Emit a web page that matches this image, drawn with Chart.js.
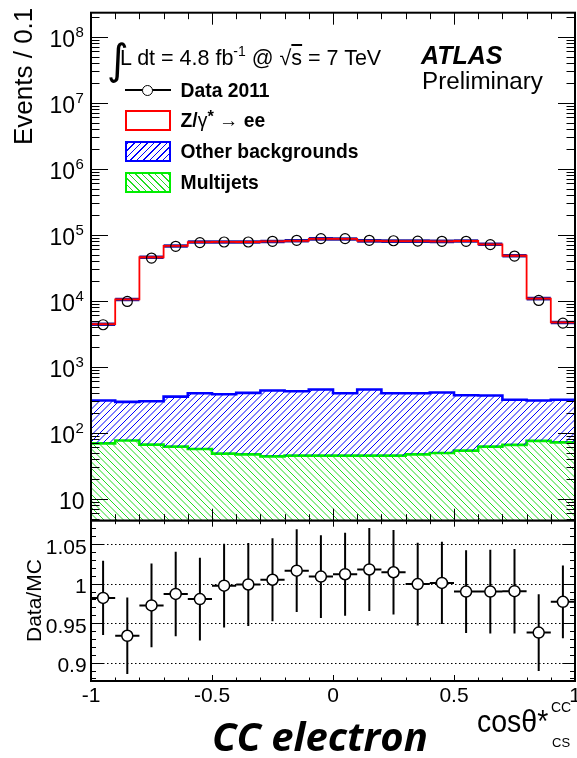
<!DOCTYPE html>
<html>
<head>
<meta charset="utf-8">
<script src="https://cdn.jsdelivr.net/npm/chart.js@4.4.1/dist/chart.umd.min.js"></script>
<style>
html,body{margin:0;padding:0;background:#fff;}
#wrap{position:relative;width:577px;height:758px;overflow:hidden;background:#fff;font-family:"Liberation Sans",Arial,Helvetica,sans-serif;color:#000;}
#mainCanvas{position:absolute;left:0;top:0;}
#ratioCanvas{position:absolute;left:0;top:500px;}
.t{position:absolute;white-space:nowrap;line-height:1;margin:0;padding:0;left:0;top:0;}
.sw{position:absolute;box-sizing:border-box;}
</style>
</head>
<body>
<div id="wrap">
<canvas id="mainCanvas" width="577" height="521"></canvas>
<canvas id="ratioCanvas" width="577" height="258"></canvas>

<div class="t" id="ytitle" style="font-size:26px;">Events / 0.1</div>
<div class="t" id="rtitle" style="font-size:21px;">Data/MC</div>

<div class="t" data-x="107" data-bl="74" style="font-family:'DejaVu Sans';font-size:42px;">∫</div>
<div class="t" data-x="120" data-bl="64.5" style="font-size:21.5px;">L dt = 4.8 fb<span style="font-size:0.65em;vertical-align:0.62em;">-1</span> @ √<span style="text-decoration:overline;">s</span> = 7 TeV</div>
<div class="t" data-x="421" data-bl="64" style="font-size:25px;font-weight:bold;font-style:italic;">ATLAS</div>
<div class="t" data-x="422" data-bl="89" style="font-size:24.2px;">Preliminary</div>

<div class="sw" style="left:125.3px;top:89.2px;width:46px;height:1.6px;background:#000;"></div>
<div class="sw" style="left:141.9px;top:84.5px;width:11px;height:11px;border:1.3px solid #000;border-radius:50%;background:#fff;"></div>
<div class="sw" style="left:125.3px;top:110px;width:46px;height:21px;border:2px solid #ff0000;background:#fff;"></div>
<div class="sw" style="left:125.3px;top:140.8px;width:46px;height:21px;border:2px solid #0000ff;background:repeating-linear-gradient(-45deg,#fff 0 3.6px,#0000ff 3.6px 4.6px);"></div>
<div class="sw" style="left:125.3px;top:171.5px;width:46px;height:21px;border:2px solid #00ee00;background:repeating-linear-gradient(45deg,#fff 0 3.6px,#22dd22 3.6px 4.6px);"></div>

<div class="t" data-x="180.6" data-bl="96.9" style="font-size:19.3px;font-weight:bold;">Data 2011</div>
<div class="t" data-x="180.6" data-bl="127.4" style="font-size:19.3px;font-weight:bold;">Z/<span style="font-weight:normal;">γ</span><span style="font-size:0.85em;vertical-align:0.3em;">*</span> → ee</div>
<div class="t" data-x="180.6" data-bl="158.2" style="font-size:19.3px;font-weight:bold;">Other backgrounds</div>
<div class="t" data-x="180.6" data-bl="188.9" style="font-size:19.3px;font-weight:bold;">Multijets</div>

<div class="t" data-x="477" data-bl="731.7" data-sx="0.89" style="font-size:32px;">cosθ*</div>
<div class="t" data-x="551" data-bl="711.7" style="font-size:14px;">CC</div>
<div class="t" data-x="552" data-bl="746.7" style="font-size:13px;">CS</div>

<div class="t" data-x="212" data-bl="751" style="font-family:'Open Sans';font-size:40px;font-weight:bold;font-style:italic;">CC electron</div>
</div>

<script>
// ---------------- data ----------------
const binEdges = [-1.0,-0.9,-0.8,-0.7,-0.6,-0.5,-0.4,-0.3,-0.2,-0.1,0.0,0.1,0.2,0.3,0.4,0.5,0.6,0.7,0.8,0.9,1.0];
const binCenters = [-0.95,-0.85,-0.75,-0.65,-0.55,-0.45,-0.35,-0.25,-0.15,-0.05,0.05,0.15,0.25,0.35,0.45,0.55,0.65,0.75,0.85,0.95];

const dataCounts = [4325,9750,44300,66700,75900,77500,77500,79400,82200,87300,87300,82200,81000,80000,79400,79400,70800,47500,10100,4570];
const zeeCounts = [4100,10150,45250,67240,77010,77310,77180,78560,80450,86070,85870,80300,79450,79630,78910,79850,71160,47640,10460,4370];
const otherBkgCounts = [238,217,234,291,339,335,355,392,380,406,351,406,351,349,357,316,305,250,232,244];
const multijetCounts = [69,76,66,61.5,56.7,48.2,47,43.8,44.9,44.9,44.9,44.9,44.9,47,49.3,53.5,61.5,65.3,75.2,71.4];

const ratioValues = [0.982,0.934,0.9725,0.987,0.9805,0.9975,0.999,1.005,1.0165,1.009,1.012,1.018,1.0145,0.9995,1.001,0.99,0.99,0.9905,0.938,0.977];
const ratioErrors = [0.047,0.0485,0.053,0.0535,0.0525,0.053,0.0525,0.0525,0.0525,0.0525,0.0525,0.0525,0.0535,0.0525,0.052,0.0525,0.053,0.0535,0.0485,0.046];

const mainYTickValues = [10,100,1e3,1e4,1e5,1e6,1e7,1e8];
const mainYTickLabels = [['10',''],['10','2'],['10','3'],['10','4'],['10','5'],['10','6'],['10','7'],['10','8']];
const ratioYTickValues = [0.9,0.95,1,1.05];
const ratioYTickLabels = ['0.9','0.95','1','1.05'];
const xTickValues = [-1,-0.5,0,0.5,1];
const xTickLabels = ['-1','-0.5','0','0.5','1'];

// ---------------- derived tables ----------------
const multijetTop = multijetCounts.slice();
const bkgTop = multijetCounts.map((v,i)=>v+otherBkgCounts[i]);
const mcTotal = bkgTop.map((v,i)=>v+zeeCounts[i]);

function stepPoints(vals){
  const pts = vals.map((v,i)=>({x:binEdges[i], y:v}));
  pts.push({x:binEdges[vals.length], y:vals[vals.length-1]});
  return pts;
}
function hSegments(vals){
  const pts=[];
  vals.forEach((v,i)=>{ pts.push({x:binEdges[i],y:v},{x:binEdges[i+1],y:v},{x:binEdges[i+1],y:null}); });
  return pts;
}
function errSegments(){
  const pts=[];
  ratioValues.forEach((r,i)=>{
    pts.push({x:binEdges[i],y:r},{x:binEdges[i+1],y:r},{x:binEdges[i+1],y:null});
    pts.push({x:binCenters[i],y:r-ratioErrors[i]},{x:binCenters[i],y:r+ratioErrors[i]},{x:binCenters[i],y:null});
  });
  return pts;
}

// ---------------- styles ----------------
const GREEN='#00ee00', BLUE='#0000ff', NAVY='#26189a', RED='#ff0000';
const FONT='"Liberation Sans", Arial, sans-serif';

function hatch(canvasId, color, dir){
  const s=13, c=document.createElement('canvas'); c.width=s; c.height=s;
  const g=c.getContext('2d'); g.strokeStyle=color; g.lineWidth=1;
  for (let x0=-2*s; x0<=2*s; x0+=6.5){
    g.beginPath();
    if (dir==='/'){ g.moveTo(x0,s); g.lineTo(x0+s,0); } else { g.moveTo(x0,0); g.lineTo(x0+s,s); }
    g.stroke();
  }
  return document.getElementById(canvasId).getContext('2d').createPattern(c,'repeat');
}

const rootFrame = {
  id:'rootFrame',
  beforeDatasetsDraw(chart, args, opts){
    if (opts.kind!=='ratio') return;
    const {ctx, chartArea:a, scales:{y}} = chart;
    ctx.save(); ctx.strokeStyle='#000'; ctx.lineWidth=1.2; ctx.setLineDash([1.5,2.5]);
    ratioYTickValues.forEach(v=>{ const py=Math.round(y.getPixelForValue(v))+0.5; ctx.beginPath(); ctx.moveTo(a.left,py); ctx.lineTo(a.right,py); ctx.stroke(); });
    ctx.restore();
  },
  afterDatasetsDraw(chart, args, opts){
    const {ctx, chartArea:a, scales:{x,y}} = chart;
    const main = opts.kind==='main';
    ctx.save();
    ctx.strokeStyle='#000'; ctx.lineWidth=1; ctx.setLineDash([]);
    const xMaj = main?12:6, xMin = main?6.5:3.5;
    for (let k=-10;k<=10;k++){
      const px=Math.round(x.getPixelForValue(k/10))+0.5, len=(k%5===0)?xMaj:xMin;
      ctx.beginPath(); ctx.moveTo(px,a.bottom); ctx.lineTo(px,a.bottom-len); ctx.moveTo(px,a.top); ctx.lineTo(px,a.top+len); ctx.stroke();
    }
    if (main){
      for (let d=0; d<=8; d++) for (let m=1; m<=9; m++){
        const v=m*Math.pow(10,d); if (v<y.min||v>y.max) continue;
        const py=Math.round(y.getPixelForValue(v))+0.5, len=(m===1)?17:8.5;
        ctx.beginPath(); ctx.moveTo(a.left,py); ctx.lineTo(a.left+len,py); ctx.moveTo(a.right,py); ctx.lineTo(a.right-len,py); ctx.stroke();
      }
    } else {
      for (let k=87; k<=108; k++){
        const v=k/100; if (v<y.min||v>y.max) continue;
        const py=Math.round(y.getPixelForValue(v))+0.5, len=(k%5===0)?12.7:5;
        ctx.beginPath(); ctx.moveTo(a.left,py); ctx.lineTo(a.left+len,py); ctx.moveTo(a.right,py); ctx.lineTo(a.right-len,py); ctx.stroke();
      }
    }
    ctx.lineWidth=2; ctx.strokeRect(a.left,a.top,a.right-a.left,a.bottom-a.top);
    ctx.fillStyle='#000'; ctx.textBaseline='alphabetic';
    if (main){
      mainYTickValues.forEach((v,i)=>{
        const py=y.getPixelForValue(v), base=mainYTickLabels[i][0], exp=mainYTickLabels[i][1];
        if (!exp){ ctx.font='23px '+FONT; ctx.textAlign='right'; ctx.fillText(base,84.5,py+10); }
        else {
          ctx.font='23px '+FONT; ctx.textAlign='right'; ctx.fillText(base,75,py+10);
          ctx.font='15px '+FONT; ctx.textAlign='left'; ctx.fillText(exp,75.5,py+0.6);
        }
      });
    } else {
      ctx.font='21px '+FONT; ctx.textAlign='right';
      ratioYTickValues.forEach((v,i)=>{ ctx.fillText(ratioYTickLabels[i],86.6,y.getPixelForValue(v)+9.6); });
      ctx.textAlign='center';
      xTickValues.forEach((v,i)=>{ ctx.fillText(xTickLabels[i],x.getPixelForValue(v),a.bottom+20.7); });
    }
    ctx.restore();
  }
};

const common = {
  responsive:false, animation:false, devicePixelRatio:1,
  plugins:{legend:{display:false}, tooltip:{enabled:false}},
  elements:{line:{tension:0, borderCapStyle:'butt', borderJoinStyle:'miter'}, point:{hitRadius:0}}
};

new Chart(document.getElementById('mainCanvas'), {
  type:'line',
  data:{datasets:[
    {label:'Multijets', data:stepPoints(multijetTop), stepped:'before', borderColor:GREEN, borderWidth:2.6, backgroundColor:hatch('mainCanvas','#22dd22','\\'), fill:'start', pointRadius:0, order:5},
    {label:'Other backgrounds', data:stepPoints(bkgTop), stepped:'before', borderColor:BLUE, borderWidth:2.6, backgroundColor:hatch('mainCanvas','#0000ff','/'), fill:0, pointRadius:0, order:4},
    {label:'MC total', data:hSegments(mcTotal), borderColor:NAVY, borderWidth:3.6, fill:false, pointRadius:0, spanGaps:false, order:3},
    {label:'Z/γ* → ee', data:stepPoints(mcTotal), stepped:'before', borderColor:RED, borderWidth:1.8, fill:false, pointRadius:0, order:2},
    {label:'Data 2011', data:binCenters.map((x,i)=>({x:x, y:dataCounts[i]})), showLine:false, pointRadius:5, pointBorderColor:'#000', pointBackgroundColor:'rgba(0,0,0,0)', pointBorderWidth:1.2, order:1}
  ]},
  options:Object.assign({}, common, {
    layout:{padding:{left:91,right:2,top:12.7,bottom:0.3}, autoPadding:false},
    plugins:{legend:{display:false}, tooltip:{enabled:false}, rootFrame:{kind:'main'}},
    scales:{
      x:{type:'linear', min:-1, max:1, display:false},
      y:{type:'logarithmic', min:4.642, max:2.311e8, display:false}
    }
  }),
  plugins:[rootFrame]
});

new Chart(document.getElementById('ratioCanvas'), {
  type:'line',
  data:{datasets:[
    {label:'errors', data:errSegments(), borderColor:'#000', borderWidth:2, fill:false, pointRadius:0, spanGaps:false, order:2},
    {label:'Data/MC', data:binCenters.map((x,i)=>({x:x, y:ratioValues[i]})), showLine:false, pointRadius:5.5, pointBorderColor:'#000', pointBackgroundColor:'#fff', pointBorderWidth:1.5, order:1}
  ]},
  options:Object.assign({}, common, {
    layout:{padding:{left:91,right:2,top:20.7,bottom:77}, autoPadding:false},
    plugins:{legend:{display:false}, tooltip:{enabled:false}, rootFrame:{kind:'ratio'}},
    scales:{
      x:{type:'linear', min:-1, max:1, display:false},
      y:{type:'linear', min:0.8767, max:1.0798, display:false}
    }
  }),
  plugins:[rootFrame]
});

// ---------------- place texts by baseline ----------------
function baselineOffset(el){
  const m=document.createElement('span');
  m.style.cssText='display:inline-block;width:0;height:0;vertical-align:baseline;';
  el.appendChild(m);
  const off=m.offsetTop; el.removeChild(m); return off;
}
document.querySelectorAll('.t[data-bl]').forEach(el=>{
  const off=baselineOffset(el);
  el.style.left=el.dataset.x+'px';
  el.style.top=(parseFloat(el.dataset.bl)-off)+'px';
  if (el.dataset.sx){ el.style.transformOrigin='0 0'; el.style.transform='scaleX('+el.dataset.sx+')'; }
});
(function(){
  const yt=document.getElementById('ytitle'), b1=baselineOffset(yt), w1=yt.offsetWidth;
  yt.style.transformOrigin='0 0'; yt.style.transform='rotate(-90deg)';
  yt.style.left=(31.8-b1)+'px'; yt.style.top=(8+w1)+'px';
  const rt=document.getElementById('rtitle'), b2=baselineOffset(rt), w2=rt.offsetWidth;
  rt.style.transformOrigin='0 0'; rt.style.transform='rotate(-90deg)';
  rt.style.left=(40.5-b2)+'px'; rt.style.top=(600.8+w2/2)+'px';
})();
</script>
</body>
</html>
